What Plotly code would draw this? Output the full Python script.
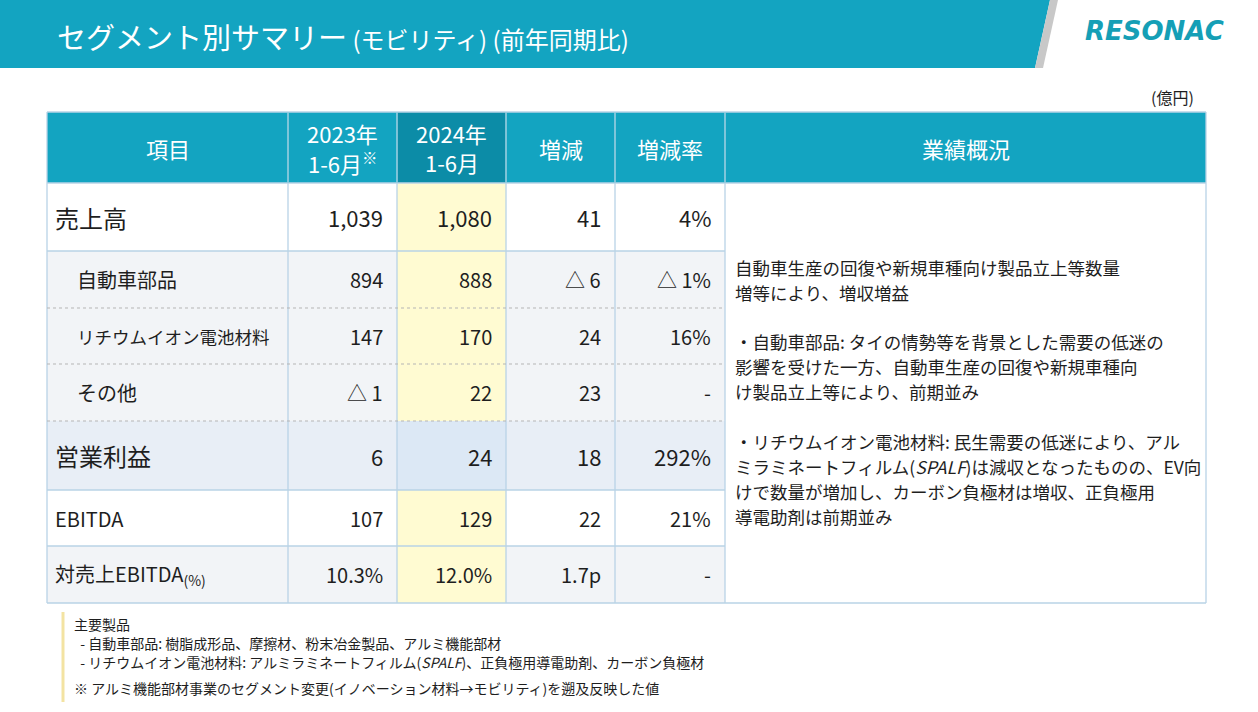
import plotly.graph_objects as go

# ---------------- data ----------------
title_main = "セグメント別サマリー"
title_sub = " (モビリティ) (前年同期比)"
unit_label = "(億円)"
headers = ["項目", "2023年<br>1-6月<sup>※</sup>", "2024年<br>1-6月", "増減", "増減率", "業績概況"]
items = ["売上高", "自動車部品", "リチウムイオン電池材料", "その他", "営業利益", "EBITDA",
         "対売上EBITDA<sub>(%)</sub>"]
v2023 = ["1,039", "894", "147", "△ 1", "6", "107", "10.3%"]
v2024 = ["1,080", "888", "170", "22", "24", "129", "12.0%"]
diff = ["41", "△ 6", "24", "23", "18", "22", "1.7p"]
rate = ["4%", "△ 1%", "16%", "-", "292%", "21%", "-"]
summary_lines = [
    "自動車生産の回復や新規車種向け製品立上等数量",
    "増等により、増収増益",
    "",
    "・自動車部品: タイの情勢等を背景とした需要の低迷の",
    "影響を受けた一方、自動車生産の回復や新規車種向",
    "け製品立上等により、前期並み",
    "",
    "・リチウムイオン電池材料: 民生需要の低迷により、アル",
    "ミラミネートフィルム(<i>SPALF</i>)は減収となったものの、EV向",
    "けで数量が増加し、カーボン負極材は増収、正負極用",
    "導電助剤は前期並み",
]
notes = [
    "主要製品",
    "  - 自動車部品: 樹脂成形品、摩擦材、粉末冶金製品、アルミ機能部材",
    "  - リチウムイオン電池材料: アルミラミネートフィルム(<i>SPALF</i>)、正負極用導電助剤、カーボン負極材",
    "※ アルミ機能部材事業のセグメント変更(イノベーション材料→モビリティ)を遡及反映した値",
]

# ---------------- layout constants ----------------
W, H = 1258, 712
FONT = "Noto Sans CJK JP"
TEAL = "#13a4c1"
TEAL_DARK = "#0c8ca7"
BORDER = "#b9d3e6"
TXT = "#1e1e1e"
col_x = [47, 288, 397, 506, 615, 725, 1206]
head_top, head_bot = 112, 183
row_y = [183, 251, 308, 364, 421, 490, 546, 603]
row_kind = ["main", "sub", "sub", "sub", "op", "plain", "sub"]
row_bg = {"main": "#ffffff", "sub": "#f2f4f7", "op": "#e8eef6", "plain": "#ffffff"}
label_size = [24, 20, 17.5, 20, 24, 20, 20]
num_size = [22, 20, 20, 20, 22, 20, 20]
label_x = [53, 75, 75, 75, 53, 53, 53]
yellow = "#fffbd2"
op2024 = "#dce8f5"

shapes = []
ann = []

def rect(x0, y0, x1, y1, fill, line=None, lw=0, layer="below"):
    shapes.append(dict(type="rect", xref="x", yref="y", x0=x0, y0=y0, x1=x1, y1=y1,
                       fillcolor=fill, line=dict(color=line or fill, width=lw), layer=layer))

def line(x0, y0, x1, y1, color, width=1, dash="solid"):
    shapes.append(dict(type="line", xref="x", yref="y", x0=x0, y0=y0, x1=x1, y1=y1,
                       line=dict(color=color, width=width, dash=dash), layer="above"))

def text(x, y, s, size, color=TXT, xanchor="left", yanchor="middle", family=FONT, align="left"):
    ann.append(dict(x=x, y=y, xref="x", yref="y", text=s, showarrow=False,
                    xanchor=xanchor, yanchor=yanchor, align=align,
                    font=dict(family=family, size=size, color=color)))

# ---- title band ----
shapes.append(dict(type="path", xref="x", yref="y",
                   path="M 0 0 L 1050 0 L 1035 68 L 0 68 Z",
                   fillcolor=TEAL, line=dict(width=0), layer="below"))
shapes.append(dict(type="path", xref="x", yref="y",
                   path="M 1050 0 L 1058 0 L 1043 68 L 1035 68 Z",
                   fillcolor="#c8c8c8", line=dict(width=0), layer="below"))
text(55, 36, title_main + "<span style='font-size:24px'>" + title_sub + "</span>", 29, "#ffffff")
text(1154, 31, "<b><i>RESONAC</i></b>", 26, "#159fb6", xanchor="center", family="DejaVu Sans")
text(1196, 97, unit_label, 16, TXT, xanchor="right")

# ---- header row ----
for i in range(6):
    fill = TEAL_DARK if i == 2 else TEAL
    rect(col_x[i], head_top, col_x[i + 1], head_bot, fill)
for i, h in enumerate(headers):
    cx = (col_x[i] + col_x[i + 1]) / 2
    parts = h.split("<br>")
    if len(parts) == 1:
        text(cx, (head_top + head_bot) / 2, h, 22, "#ffffff", xanchor="center", align="center")
    else:
        text(cx, 133, parts[0], 22, "#ffffff", xanchor="center", align="center")
        text(cx, 162, parts[1], 22, "#ffffff", xanchor="center", align="center")

# ---- body ----
for r in range(len(items)):
    y0, y1 = row_y[r], row_y[r + 1]
    kind = row_kind[r]
    for c in range(5):
        fill = row_bg[kind]
        if c == 2:
            fill = op2024 if kind == "op" else yellow
        rect(col_x[c], y0, col_x[c + 1], y1, fill)
    ym = (y0 + y1) / 2
    text(label_x[r], ym, items[r], label_size[r])
    for c, vals in zip([1, 2, 3, 4], [v2023, v2024, diff, rate]):
        text(col_x[c + 1] - 12, ym, vals[r], num_size[r], xanchor="right")

# merged summary cell
rect(col_x[5], row_y[0], col_x[6], row_y[-1], "#ffffff")
y = 267
for ln in summary_lines:
    if ln:
        text(733, y, ln, 17.5)
    y += 25 if ln else 24.5

# grid lines
for c in range(len(col_x)):
    line(col_x[c], head_top, col_x[c], row_y[-1], BORDER, 1.3)
for r, yy in enumerate(row_y):
    if r in (2, 3, 4):
        line(col_x[0], yy, col_x[5], yy, "#b5b5b5", 1, "dot")
    elif r in (0, len(row_y) - 1):
        line(col_x[0], yy, col_x[6], yy, BORDER, 1.3)
    else:
        line(col_x[0], yy, col_x[5], yy, BORDER, 1.3)
line(col_x[0], head_top, col_x[6], head_top, BORDER, 1.3)
for c in range(1, 6):
    line(col_x[c], head_top, col_x[c], head_bot, "#7fc9db", 1)

# ---- notes ----
line(63, 612, 63, 702, "#f3e3a2", 3)
note_y = [624, 643, 662, 688]
for s, yy in zip(notes, note_y):
    text(72, yy, s.replace("  ", "&nbsp;&nbsp;"), 14)

fig = go.Figure()
fig.update_layout(
    width=W, height=H, margin=dict(l=0, r=0, t=0, b=0),
    paper_bgcolor="#ffffff", plot_bgcolor="#ffffff",
    xaxis=dict(range=[0, W], visible=False, fixedrange=True),
    yaxis=dict(range=[H, 0], visible=False, fixedrange=True),
    shapes=shapes, annotations=ann, showlegend=False,
)
fig.write_html("out.html", config={"displayModeBar": False},
               post_script="document.body.style.margin='0px';document.body.style.overflow='hidden';")
